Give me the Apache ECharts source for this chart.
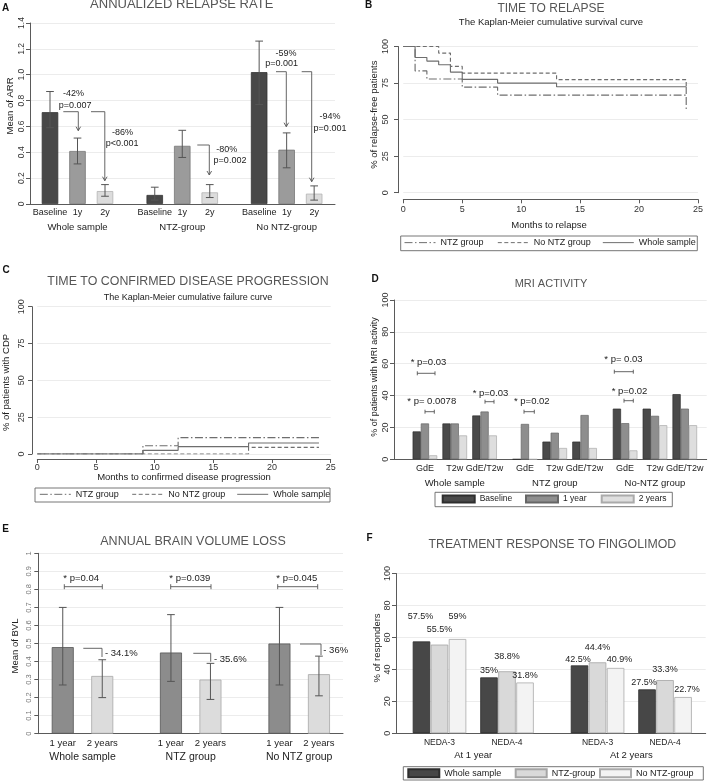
<!DOCTYPE html>
<html><head><meta charset="utf-8"><title>Fingolimod outcomes</title>
<script src="https://cdn.jsdelivr.net/npm/echarts@6.0.0/dist/echarts.min.js"></script>
<style>
html,body{margin:0;padding:0;background:#fff;width:708px;height:782px;overflow:hidden}
.pn{position:absolute;left:0;top:0;width:708px;height:782px}
</style></head><body>
<div id="pA" class="pn"></div><div id="pB" class="pn"></div><div id="pC" class="pn"></div>
<div id="pD" class="pn"></div><div id="pE" class="pn"></div><div id="pF" class="pn"></div>
<script>
// ================= DATA =================
// A - annualized relapse rate
const aCategories = ['Baseline', '1y', '2y'];
const aGroups = ['Whole sample', 'NTZ-group', 'No NTZ-group'];
const aWholeMean = [0.71, 0.41, 0.10];
const aWholeLow = [0.59, 0.31, 0.06];
const aWholeHigh = [0.87, 0.51, 0.15];
const aNtzMean = [0.07, 0.45, 0.09];
const aNtzLow = [0.03, 0.36, 0.05];
const aNtzHigh = [0.13, 0.57, 0.15];
const aNoNtzMean = [1.02, 0.42, 0.08];
const aNoNtzLow = [0.77, 0.28, 0.03];
const aNoNtzHigh = [1.26, 0.55, 0.14];
const aYTicks = ['0', '0.2', '0.4', '0.6', '0.8', '1.0', '1.2', '1.4'];
// B - time to relapse (KM survival)
const kmNames = ['NTZ group', 'No NTZ group', 'Whole sample'];
const bNtz = [[0, 100], [1, 83.3], [2, 77.8], [5, 72.2], [8, 66.7], [24, 66.7], [24, 55.6]];
const bNoNtz = [[0, 100], [3, 95.5], [4, 86.4], [5, 81.8], [13, 77.3], [24, 77.3], [24, 72.7]];
const bWhole = [[0, 100], [1, 92.5], [2, 90], [3, 87.5], [4, 82.5], [5, 77.5], [8, 75], [13, 72.5], [24, 72.5], [24, 67.5]];
const kmXTicks = ['0', '5', '10', '15', '20', '25'];
const kmYTicks = ['0', '25', '50', '75', '100'];
// C - time to confirmed disease progression (KM failure)
const cNtz = [[0, 0], [9, 5.6], [12, 11.1], [24, 11.1]];
const cNoNtz = [[0, 0], [18, 4.5], [24, 4.5]];
const cWhole = [[0, 0], [9, 2.5], [12, 5], [18, 7.5], [24, 7.5]];
// D - MRI activity (%), order: Whole GdE,T2w,GdE/T2w | NTZ ... | No-NTZ ...
const dCategories = ['GdE', 'T2w', 'GdE/T2w'];
const dGroups = ['Whole sample', 'NTZ group', 'No-NTZ group'];
const dSeriesNames = ['Baseline', '1 year', '2 years'];
const dBaseline = [17.5, 22.5, 27.5, 0, 11.1, 11.1, 31.8, 31.8, 40.9];
const dYear1 = [22.5, 22.5, 30.0, 22.2, 16.7, 27.8, 22.7, 27.3, 31.8];
const dYear2 = [2.5, 15.0, 15.0, 0, 7.1, 7.1, 5.6, 21.4, 21.4];
const pctTicks = ['0', '20', '40', '60', '80', '100'];
// E - annual brain volume loss
const eCategories = ['1 year', '2 years'];
const eGroups = ['Whole sample', 'NTZ group', 'No NTZ group'];
const eYear1Mean = [0.48, 0.45, 0.50];
const eYear1Low = [0.27, 0.29, 0.27];
const eYear1High = [0.70, 0.66, 0.70];
const eYear2Mean = [0.32, 0.30, 0.33];
const eYear2Low = [0.20, 0.19, 0.21];
const eYear2High = [0.41, 0.39, 0.43];
const eYTicks = ['0', '0.1', '0.2', '0.3', '0.4', '0.5', '0.6', '0.7', '0.8', '0.9', '1'];
// F - treatment response (%), order: At 1 year NEDA-3, NEDA-4 | At 2 years NEDA-3, NEDA-4
const fCategories = ['NEDA-3', 'NEDA-4'];
const fGroups = ['At 1 year', 'At 2 years'];
const fSeriesNames = ['Whole sample', 'NTZ-group', 'No NTZ-group'];
const fWhole = [57.5, 35.0, 42.5, 27.5];
const fNtz = [55.5, 38.8, 44.4, 33.3];
const fNoNtz = [59.0, 31.8, 40.9, 22.7];

// ================= STYLE / HELPERS =================
const FONT = '"Liberation Sans", Arial, Helvetica, sans-serif';
const AXC = '#5a5a5a', GRC = '#ececec', TXT = '#222', TICKC = '#333', TITC = '#555';

function T(text, x, y, size, o) {
  o = o || {};
  const al = o.align || 'center';
  return {type: 'text', x: x, y: y, rotation: o.rot || 0, silent: true, z: 50,
    style: {text: text, fill: o.color || TXT, font: (o.bold ? 'bold ' : '') + size + 'px ' + FONT,
      align: al, verticalAlign: 'middle', textAlign: al, textVerticalAlign: 'middle'}};
}
function L(pts, o) {
  o = o || {};
  return {type: 'polyline', silent: true, z: 50, shape: {points: pts},
    style: {stroke: o.color || '#555', lineWidth: o.w || 0.9, fill: 'none'}};
}
function R(x1, y1, x2, y2) {
  return {type: 'rect', silent: true, z: 40, shape: {x: x1, y: y1, width: x2 - x1, height: y2 - y1},
    style: {fill: 'none', stroke: '#666', lineWidth: 0.9}};
}
function brk(x1, x2, y, h) {
  return [L([[x1, y], [x2, y]]), L([[x1, y - h], [x1, y + h]]), L([[x2, y - h], [x2, y + h]])];
}
function arrowDown(x, y) { return L([[x - 2.3, y - 4], [x, y], [x + 2.3, y - 4]]); }
function legendItem(name, x, cy, w, h, font, icon) {
  const lg = {data: [name], left: x, top: cy - Math.max(h, font * 1.15) / 2, padding: 0,
    itemWidth: w, itemHeight: h, itemGap: 0, selectedMode: false,
    textStyle: {fontSize: font, color: TXT, fontFamily: FONT}};
  if (icon) lg.icon = icon;
  else {
    lg.itemStyle = {color: 'rgba(0,0,0,0)', borderColor: 'rgba(0,0,0,0)', borderWidth: 0, opacity: 0};
    lg.lineStyle = {width: 1};
  }
  return lg;
}
function basePart(o) {
  return {
    grid: {left: o.ax, top: o.top, width: o.right - o.ax, height: o.y0 - o.top, outerBoundsMode: 'none', containLabel: false},
    xAxis: {gridIndex: 0, type: 'value', min: 0, max: 1, axisLine: {show: true, onZero: false, lineStyle: {color: AXC, width: 1}},
      axisTick: {show: false}, axisLabel: {show: false}, splitLine: {show: false}},
    yAxis: {gridIndex: 0, type: 'value', min: o.min, max: o.max, interval: o.step,
      axisLine: {show: true, onZero: false, lineStyle: {color: AXC}},
      axisTick: {show: true, length: 4, lineStyle: {color: AXC}},
      axisLabel: {rotate: 90, fontSize: o.lab, margin: o.margin, color: o.labColor || TICKC, fontFamily: FONT,
        formatter: function (v) { return o.ticks[Math.round((v - o.min) / o.step)]; }},
      splitLine: {show: true, lineStyle: {color: GRC}}}
  };
}
function clusterPart(idx, left, width, o, cats, name, c) {
  return {
    grid: {left: left, top: o.top, width: width, height: o.y0 - o.top, outerBoundsMode: 'none', containLabel: false},
    xAxis: {gridIndex: idx, type: 'category', data: cats, axisLine: {show: false}, axisTick: {show: false}, splitLine: {show: false},
      axisLabel: {interval: 0, fontSize: c.catFont, margin: c.catMargin, color: TXT, fontFamily: FONT},
      name: name, nameLocation: 'middle', nameGap: c.nameGap, nameTextStyle: {fontSize: c.nameFont, color: TXT, fontFamily: FONT}},
    yAxis: {gridIndex: idx, type: 'value', min: o.min, max: o.max, show: false}
  };
}
function errSeries(idx, low, high, cap, color) {
  return {type: 'custom', xAxisIndex: idx, yAxisIndex: idx, z: 6, clip: false, silent: true,
    data: low.map(function (l, i) { return [i, l, high[i]]; }), encode: {x: 0, y: [1, 2]},
    renderItem: function (params, api) {
      const a = api.coord([api.value(0), api.value(1)]), b = api.coord([api.value(0), api.value(2)]);
      const h = cap / 2, st = {stroke: color, lineWidth: 1};
      return {type: 'group', children: [
        {type: 'line', shape: {x1: a[0], y1: a[1], x2: b[0], y2: b[1]}, style: st},
        {type: 'line', shape: {x1: a[0] - h, y1: a[1], x2: a[0] + h, y2: a[1]}, style: st},
        {type: 'line', shape: {x1: b[0] - h, y1: b[1], x2: b[0] + h, y2: b[1]}, style: st}]};
    }};
}
function mk(id, option) {
  const c = echarts.init(document.getElementById(id), null, {renderer: 'canvas', width: 708, height: 782});
  option.animation = false;
  option.backgroundColor = 'transparent';
  option.textStyle = {fontFamily: FONT};
  c.setOption(option);
  return c;
}
const KM_STYLE = [
  {type: [8, 2.5, 1.5, 2.5]},  // NTZ group: dash-dot
  {type: [4, 2.5]},            // No NTZ group: dashed
  {type: 'solid'}              // Whole sample
];
const KM_COLOR = '#6e6e6e';
function kmSeries(datas) {
  return datas.map(function (d, i) {
    return {type: 'line', name: kmNames[i], data: d, step: 'end', symbol: 'none', silent: true, z: 3 + i,
      lineStyle: {color: KM_COLOR, width: 1.15, type: KM_STYLE[i].type}, itemStyle: {color: KM_COLOR}};
  });
}
function kmAxes(k) {
  return {
    grid: {left: k.x0, top: k.y100, width: k.x25 - k.x0, height: k.y0 - k.y100, outerBoundsMode: 'none', containLabel: false},
    xAxis: {type: 'value', min: 0, max: 25, interval: 5, offset: k.axY - k.y0,
      axisLine: {show: true, onZero: false, lineStyle: {color: AXC}},
      axisTick: {show: true, length: 4, lineStyle: {color: AXC}},
      axisLabel: {fontSize: 9, margin: k.xMargin, color: TICKC, fontFamily: FONT, formatter: function (v) { return kmXTicks[Math.round(v / 5)]; }},
      splitLine: {show: false}},
    yAxis: {type: 'value', min: 0, max: 100, interval: 25, offset: k.x0 - k.axX,
      axisLine: {show: true, onZero: false, lineStyle: {color: AXC}},
      axisTick: {show: true, length: 4, lineStyle: {color: AXC}},
      axisLabel: {rotate: 90, fontSize: 9, margin: k.yMargin, color: TICKC, fontFamily: FONT, formatter: function (v) { return kmYTicks[Math.round(v / 25)]; }},
      splitLine: {show: true, lineStyle: {color: GRC}}}
  };
}

// ================= PANEL A =================
(function () {
  const o = {ax: 30, right: 335, top: 23, y0: 204, min: 0, max: 1.4, step: 0.2, ticks: aYTicks, lab: 8.5, margin: 4};
  const c = {catFont: 9, catMargin: 4, nameFont: 9.5, nameGap: 18};
  const lefts = [36.25, 141, 245.4], W = 82.5;
  const means = [aWholeMean, aNtzMean, aNoNtzMean], lows = [aWholeLow, aNtzLow, aNoNtzLow], highs = [aWholeHigh, aNtzHigh, aNoNtzHigh];
  const fill = ['#484848', '#9b9b9b', '#dcdcdc'], edge = ['#333', '#777', '#b3b3b3'];
  const b = basePart(o);
  const grid = [b.grid], xAxis = [b.xAxis], yAxis = [b.yAxis], series = [];
  lefts.forEach(function (lf, g) {
    const p = clusterPart(g + 1, lf, W, o, aCategories, aGroups[g], c);
    grid.push(p.grid); xAxis.push(p.xAxis); yAxis.push(p.yAxis);
    series.push({type: 'bar', name: aGroups[g], xAxisIndex: g + 1, yAxisIndex: g + 1, barWidth: 16.5, z: 2, silent: true,
      data: means[g].map(function (v, i) { return {value: v, itemStyle: {color: fill[i], borderColor: edge[i], borderWidth: 0.8}}; })});
    series.push(errSeries(g + 1, lows[g], highs[g], 7.7, '#555'));
  });
  const gr = [
    T('A', 5.5, 8, 10, {bold: true, color: '#111'}),
    T('ANNUALIZED RELAPSE RATE', 181.7, 4.5, 13, {color: TITC}),
    T('Mean of ARR', 10, 106, 9.5, {rot: Math.PI / 2}),
    T('-42%', 73.5, 93.5, 9), T('p=0.007', 75.2, 105.3, 9),
    L([[63.3, 111.7], [78.3, 111.7], [78.3, 130.7]]), arrowDown(78.3, 130.7),
    L([[91, 111.7], [104.8, 111.7], [104.8, 180.7]]), arrowDown(104.8, 180.7),
    T('-86%', 122.5, 132.2, 9), T('p<0.001', 122.2, 143.7, 9),
    L([[197.3, 145], [209.3, 145], [209.3, 175]]), arrowDown(209.3, 175),
    T('-80%', 226.7, 150, 9), T('p=0.002', 230, 160.7, 9),
    L([[276, 71.7], [286.3, 71.7], [286.3, 126.7]]), arrowDown(286.3, 126.7),
    T('-59%', 286, 54, 9), T('p=0.001', 281.7, 64, 9),
    L([[301.7, 71.7], [311.7, 71.7], [311.7, 181.7]]), arrowDown(311.7, 181.7),
    T('-94%', 330, 116.7, 9), T('p=0.001', 330, 128.3, 9)
  ];
  mk('pA', {grid: grid, xAxis: xAxis, yAxis: yAxis, series: series, graphic: {elements: gr}});
})();

// ================= PANEL B =================
(function () {
  const k = {x0: 403.3, x25: 698, y100: 46.5, y0: 192.7, axX: 398, axY: 199.3, xMargin: 6, yMargin: 7.5};
  const ax = kmAxes(k);
  const legend = [
    legendItem(kmNames[0], 404, 243.3, 31, 10, 9),
    legendItem(kmNames[1], 497.3, 243.3, 31, 10, 9),
    legendItem(kmNames[2], 602.3, 243.3, 31, 10, 9)
  ];
  const gr = [
    T('B', 368.5, 5.5, 10, {bold: true, color: '#111'}),
    T('TIME TO RELAPSE', 551, 8.3, 12, {color: TITC}),
    T('The Kaplan-Meier cumulative survival curve', 551, 22.8, 9.5),
    T('% of relapse-free patients', 374, 114.7, 9.5, {rot: Math.PI / 2}),
    T('Months to relapse', 549, 225, 9.5),
    R(400.7, 236, 697.3, 250.7)
  ];
  mk('pB', {grid: ax.grid, xAxis: ax.xAxis, yAxis: ax.yAxis, series: kmSeries([bNtz, bNoNtz, bWhole]), legend: legend, graphic: {elements: gr}});
})();

// ================= PANEL C =================
(function () {
  const k = {x0: 37.3, x25: 330.7, y100: 306.7, y0: 454, axX: 32, axY: 459, xMargin: 4.2, yMargin: 5.8};
  const ax = kmAxes(k);
  const legend = [
    legendItem(kmNames[0], 39.3, 495, 31, 10, 9),
    legendItem(kmNames[1], 131.7, 495, 31, 10, 9),
    legendItem(kmNames[2], 236.7, 495, 31, 10, 9)
  ];
  const gr = [
    T('C', 6, 270, 10, {bold: true, color: '#111'}),
    T('TIME TO CONFIRMED DISEASE PROGRESSION', 188, 282, 12.4, {color: TITC}),
    T('The Kaplan-Meier cumulative failure curve', 188, 297.5, 9),
    T('% of patients with CDP', 6.5, 382.5, 9.5, {rot: Math.PI / 2}),
    T('Months to confirmed disease progression', 184, 477.7, 9.5),
    R(35, 488, 330, 502)
  ];
  mk('pC', {grid: ax.grid, xAxis: ax.xAxis, yAxis: ax.yAxis, series: kmSeries([cNtz, cNoNtz, cWhole]), legend: legend, graphic: {elements: gr}});
})();

// ================= PANEL D =================
(function () {
  const o = {ax: 394, right: 706.7, top: 300, y0: 459.3, min: 0, max: 100, step: 20, ticks: pctTicks, lab: 9, margin: 4.2};
  const c = {catFont: 9, catMargin: 4.5, nameFont: 9.5, nameGap: 19};
  const lefts = [410, 510, 610.2], W = 89.5;
  const vals = [dBaseline, dYear1, dYear2];
  const fill = ['#4a4a4a', '#8e8e8e', '#dedede'], edge = ['#2e2e2e', '#666', '#aaa'];
  const b = basePart(o);
  const grid = [b.grid], xAxis = [b.xAxis], yAxis = [b.yAxis], series = [];
  lefts.forEach(function (lf, g) {
    const p = clusterPart(g + 1, lf, W, o, dCategories, dGroups[g], c);
    grid.push(p.grid); xAxis.push(p.xAxis); yAxis.push(p.yAxis);
    vals.forEach(function (arr, t) {
      series.push({type: 'bar', name: dSeriesNames[t], xAxisIndex: g + 1, yAxisIndex: g + 1, barWidth: 8.2, barGap: '0%', z: 2, silent: true,
        data: arr.slice(g * 3, g * 3 + 3), itemStyle: {color: fill[t], borderColor: edge[t], borderWidth: 0.7}});
    });
  });
  const legend = [
    legendItem(dSeriesNames[0], 441.7, 499.5, 32, 7, 8.5, 'rect'),
    legendItem(dSeriesNames[1], 525, 499.5, 32, 7, 8.5, 'rect'),
    legendItem(dSeriesNames[2], 600.7, 499.5, 32, 7, 8.5, 'rect')
  ];
  let gr = [
    T('D', 375, 279, 10, {bold: true, color: '#111'}),
    T('MRI ACTIVITY', 551, 284.3, 11, {color: TITC}),
    T('% of patients with MRI activity', 374.7, 377, 9, {rot: Math.PI / 2}),
    R(435, 492.3, 672.3, 506.7),
    T('* p=0.03', 410.7, 362.3, 9.5, {align: 'left'}),
    T('* p= 0.0078', 407.3, 401, 9.5, {align: 'left'}),
    T('* p=0.03', 472.7, 393.3, 9.5, {align: 'left'}),
    T('* p=0.02', 514, 401.7, 9.5, {align: 'left'}),
    T('* p= 0.03', 604.3, 359.3, 9.5, {align: 'left'}),
    T('* p=0.02', 611.7, 391.7, 9.5, {align: 'left'})
  ];
  gr = gr.concat(brk(417.3, 435, 373.3, 2), brk(425, 434.3, 411.7, 2), brk(485, 494, 401.7, 2),
    brk(524, 534.3, 411.7, 2), brk(614.3, 633.3, 371.7, 2), brk(624, 633.3, 400.7, 2));
  mk('pD', {grid: grid, xAxis: xAxis, yAxis: yAxis, series: series, legend: legend, graphic: {elements: gr}});
})();

// ================= PANEL E =================
(function () {
  const o = {ax: 38.3, right: 343, top: 553.3, y0: 733.7, min: 0, max: 1, step: 0.1, ticks: eYTicks, lab: 7.5, margin: 5.3, labColor: '#777'};
  const c = {catFont: 9.5, catMargin: 5, nameFont: 10.5, nameGap: 18};
  const lefts = [43, 151.2, 259.7], W = 79;
  const fill = ['#8c8c8c', '#dcdcdc'], edge = ['#555', '#a8a8a8'];
  const b = basePart(o);
  const grid = [b.grid], xAxis = [b.xAxis], yAxis = [b.yAxis], series = [];
  lefts.forEach(function (lf, g) {
    const p = clusterPart(g + 1, lf, W, o, eCategories, eGroups[g], c);
    grid.push(p.grid); xAxis.push(p.xAxis); yAxis.push(p.yAxis);
    const m = [eYear1Mean[g], eYear2Mean[g]];
    series.push({type: 'bar', name: eGroups[g], xAxisIndex: g + 1, yAxisIndex: g + 1, barWidth: 22, z: 2, silent: true,
      data: m.map(function (v, i) { return {value: v, itemStyle: {color: fill[i], borderColor: edge[i], borderWidth: 0.8}}; })});
    series.push(errSeries(g + 1, [eYear1Low[g], eYear2Low[g]], [eYear1High[g], eYear2High[g]], 7.7, '#555'));
  });
  let gr = [
    T('E', 5.5, 529, 10, {bold: true, color: '#111'}),
    T('ANNUAL BRAIN VOLUME LOSS', 193, 541.7, 12.5, {color: TITC}),
    T('Mean of BVL', 15, 646, 9.5, {rot: Math.PI / 2}),
    T('* p=0.04', 81.2, 578.8, 9.5), T('* p=0.039', 189.8, 578.8, 9.5), T('* p=0.045', 296.8, 578.8, 9.5),
    L([[83.3, 648.3], [102, 648.3], [102, 657]]), T('- 34.1%', 105, 653.3, 9.5, {align: 'left'}),
    L([[193.3, 653.3], [210.7, 653.3], [210.7, 661.7]]), T('- 35.6%', 214, 659.2, 9.5, {align: 'left'}),
    L([[300, 644], [321, 644], [321, 655]]), T('- 36%', 323.3, 650.3, 9.5, {align: 'left'})
  ];
  gr = gr.concat(brk(64.3, 102.3, 586.7, 2.5), brk(170.7, 211, 586.7, 2.5), brk(277.7, 317.7, 586.7, 2.5));
  mk('pE', {grid: grid, xAxis: xAxis, yAxis: yAxis, series: series, graphic: {elements: gr}});
})();

// ================= PANEL F =================
(function () {
  const o = {ax: 396, right: 705.7, top: 573.5, y0: 733.3, min: 0, max: 100, step: 20, ticks: pctTicks, lab: 9, margin: 3.7};
  const c = {catFont: 8.5, catMargin: 4.5, nameFont: 9.5, nameGap: 17};
  const lefts = [405.75, 563.8], W = 135;
  const vals = [fWhole, fNtz, fNoNtz];
  const fill = ['#474747', '#d9d9d9', '#f3f3f3'], edge = ['#2e2e2e', '#a5a5a5', '#aaa'];
  // label placement (px above bar / px sideways), per series, per bar
  const LIFT = [[20, 2, 1, 2.5], [11, 10.5, 10.5, 6], [18, 2, 4, 3.5]];
  const SHIFT = [[-1, 0, -1.5, -3], [0, 0, 0, 0], [0, 0, 4, 4]];
  const b = basePart(o);
  const grid = [b.grid], xAxis = [b.xAxis], yAxis = [b.yAxis], series = [];
  lefts.forEach(function (lf, g) {
    const p = clusterPart(g + 1, lf, W, o, fCategories, fGroups[g], c);
    grid.push(p.grid); xAxis.push(p.xAxis); yAxis.push(p.yAxis);
    vals.forEach(function (arr, s) {
      series.push({type: 'bar', name: fSeriesNames[s], xAxisIndex: g + 1, yAxisIndex: g + 1, barWidth: 17.5, barGap: '3%', z: 2, silent: true,
        itemStyle: {color: fill[s], borderColor: edge[s], borderWidth: 0.8},
        label: {show: true, position: 'top', fontSize: 9, color: TXT, fontFamily: FONT, formatter: function (pp) { return pp.value + '%'; }},
        data: arr.slice(g * 2, g * 2 + 2).map(function (v, k) {
          const j = g * 2 + k;
          return {value: v, label: {distance: LIFT[s][j], offset: [SHIFT[s][j], 0]}};
        })});
    });
  });
  const legend = [
    legendItem(fSeriesNames[0], 407.3, 773.3, 31, 8, 9, 'rect'),
    legendItem(fSeriesNames[1], 514.7, 773.3, 31, 8, 9, 'rect'),
    legendItem(fSeriesNames[2], 599, 773.3, 31, 8, 9, 'rect')
  ];
  const gr = [
    T('F', 369.5, 538, 10, {bold: true, color: '#111'}),
    T('TREATMENT RESPONSE TO FINGOLIMOD', 552.3, 544.3, 12.3, {color: TITC}),
    T('% of responders', 377, 648, 9.5, {rot: Math.PI / 2}),
    R(403.3, 766.7, 703.3, 780)
  ];
  mk('pF', {grid: grid, xAxis: xAxis, yAxis: yAxis, series: series, legend: legend, graphic: {elements: gr}});
})();
</script>
</body></html>
